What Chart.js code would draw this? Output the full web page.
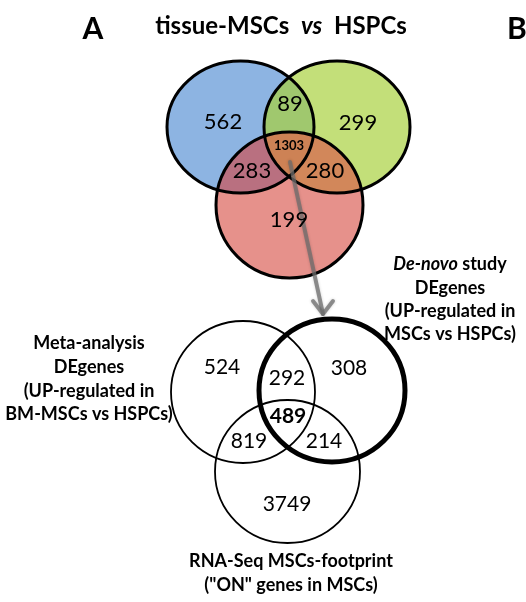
<!DOCTYPE html>
<html>
<head>
  <title>tissue-MSCs vs HSPCs</title>
  <script src="https://cdn.jsdelivr.net/npm/chart.js"></script>
  <style>
    body {
      margin: 0;
      background-color: #fff;
    }
    #venn {
      display: block;
    }
  </style>
</head>
<body>
  <canvas id="venn" width="526" height="602"></canvas>

  <script>
    // region order: A only, AB, B only, ABC, AC, BC, C only
    const regions = ['A', 'AB', 'B', 'ABC', 'AC', 'BC', 'C'];
    const topCounts = [562, 89, 299, 1303, 283, 280, 199];
    const bottomCounts = [524, 292, 308, 489, 819, 214, 3749];
    const bottomSets = [
      ['Meta-analysis', 'DEgenes', '(UP-regulated in', 'BM-MSCs vs HSPCs)'],
      ['De-novo study', 'DEgenes', '(UP-regulated in', 'MSCs vs HSPCs)'],
      ['RNA-Seq MSCs-footprint', '("ON" genes in MSCs)']
    ];

    // layout in axis units (x 0..526, y 0..602 top-down)
    const topCircles = [
      { cx: 240.5, cy: 127, rx: 73.5, ry: 66 },
      { cx: 337, cy: 127, rx: 73, ry: 66 },
      { cx: 289.5, cy: 205, rx: 73.5, ry: 73 }
    ];
    const bottomCircles = [
      { cx: 243, cy: 392, rx: 72, ry: 71 },
      { cx: 332, cy: 390.5, rx: 73, ry: 71.5 },
      { cx: 287.5, cy: 471.5, rx: 72.5, ry: 71.5 }
    ];
    const topLabelPos = [[223, 122], [290, 104], [358, 123], [289, 146], [252, 171], [325, 171], [289, 220]];
    const bottomLabelPos = [[222, 367], [287, 378], [349, 368], [288, 416], [249, 441], [324, 441], [287, 504]];

    const FONT = 'Lato, "Open Sans", sans-serif';

    function ellipsePath(ctx, chart, c) {
      const sx = chart.scales.x, sy = chart.scales.y;
      const px = sx.getPixelForValue(c.cx);
      const py = sy.getPixelForValue(c.cy);
      const rx = Math.abs(sx.getPixelForValue(c.cx + c.rx) - px);
      const ry = Math.abs(sy.getPixelForValue(c.cy + c.ry) - py);
      ctx.beginPath();
      ctx.ellipse(px, py, rx, ry, 0, 0, Math.PI * 2);
    }

    function fillClipped(ctx, chart, clips, target, color) {
      ctx.save();
      clips.forEach(c => { ellipsePath(ctx, chart, c); ctx.clip(); });
      ellipsePath(ctx, chart, target);
      ctx.fillStyle = color;
      ctx.fill();
      ctx.restore();
    }

    const vennPlugin = {
      id: 'venn',
      beforeDatasetsDraw(chart) {
        const ctx = chart.ctx;
        const [a, b, c] = topCircles;
        const sx = chart.scales.x, sy = chart.scales.y;

        // top venn fills
        fillClipped(ctx, chart, [], a, '#8db4e2');
        fillClipped(ctx, chart, [], b, '#c3df79');
        fillClipped(ctx, chart, [], c, '#e6918b');
        fillClipped(ctx, chart, [a], b, '#a0c86e');
        fillClipped(ctx, chart, [a], c, '#b97080');
        fillClipped(ctx, chart, [b], c, '#d2875a');
        fillClipped(ctx, chart, [a, b], c, '#cd8255');

        ctx.save();
        ctx.strokeStyle = '#000';
        ctx.lineWidth = 3;
        topCircles.forEach(k => { ellipsePath(ctx, chart, k); ctx.stroke(); });

        // bottom venn outlines
        bottomCircles.forEach((k, i) => {
          ellipsePath(ctx, chart, k);
          ctx.lineWidth = i === 1 ? 5 : 1.8;
          ctx.stroke();
        });
        ctx.restore();

        // arrow from the 1303 region to the de-novo set
        const x0 = sx.getPixelForValue(290), y0 = sy.getPixelForValue(162);
        const x1 = sx.getPixelForValue(323), y1 = sy.getPixelForValue(314);
        ctx.save();
        ctx.strokeStyle = 'rgba(110,110,110,0.75)';
        ctx.lineWidth = 4;
        ctx.lineCap = 'round';
        ctx.lineJoin = 'round';
        ctx.shadowColor = 'rgba(0,0,0,0.25)';
        ctx.shadowBlur = 3;
        ctx.beginPath();
        ctx.moveTo(x0, y0);
        ctx.lineTo(x1, y1);
        ctx.stroke();
        ctx.beginPath();
        ctx.moveTo(x1 - 10, y1 - 13);
        ctx.lineTo(x1, y1);
        ctx.lineTo(x1 + 10, y1 - 13);
        ctx.stroke();
        ctx.restore();
      },
      afterDatasetsDraw(chart) {
        const ctx = chart.ctx;
        const sx = chart.scales.x, sy = chart.scales.y;
        ctx.save();
        ctx.fillStyle = '#000';
        ctx.textAlign = 'center';
        ctx.textBaseline = 'middle';

        // region counts, drawn at the scatter points
        [0, 1].forEach(d => {
          const meta = chart.getDatasetMeta(d);
          const counts = d === 0 ? topCounts : bottomCounts;
          meta.data.forEach((pt, i) => {
            let f = '22px ' + FONT;
            if (d === 0 && i === 3) f = 'bold 13px ' + FONT;
            if (d === 1) f = (i === 3 ? 'bold ' : '') + '21px ' + FONT;
            ctx.font = f;
            ctx.fillText(String(counts[i]), pt.x, pt.y);
          });
        });

        // panel letters
        ctx.font = 'bold 30px ' + FONT;
        ctx.fillText('A', sx.getPixelForValue(93), sy.getPixelForValue(29));
        ctx.textAlign = 'left';
        ctx.fillText('B', sx.getPixelForValue(507), sy.getPixelForValue(29));

        // title with italic "vs"
        const parts = [
          ['bold 24px ' + FONT, 'tissue-MSCs  '],
          ['italic bold 24px ' + FONT, 'vs'],
          ['bold 24px ' + FONT, '  HSPCs']
        ];
        let total = 0;
        parts.forEach(p => { ctx.font = p[0]; total += ctx.measureText(p[1]).width; });
        let tx = sx.getPixelForValue(281) - total / 2;
        const ty = sy.getPixelForValue(26);
        parts.forEach(p => {
          ctx.font = p[0];
          ctx.fillText(p[1], tx, ty);
          tx += ctx.measureText(p[1]).width;
        });

        // set labels of the bottom venn
        ctx.textAlign = 'center';
        ctx.font = 'bold 18px ' + FONT;
        const metaY = [343, 367, 391, 414];
        bottomSets[0].forEach((s, i) => {
          ctx.fillText(s, sx.getPixelForValue(89), sy.getPixelForValue(metaY[i]));
        });
        const novoY = [264, 288, 311, 334];
        bottomSets[1].forEach((s, i) => {
          const y = sy.getPixelForValue(novoY[i]);
          if (i === 0) {
            ctx.font = 'italic bold 18px ' + FONT;
            const w1 = ctx.measureText('De-novo').width;
            ctx.font = 'bold 18px ' + FONT;
            const w2 = ctx.measureText(' study').width;
            let x = sx.getPixelForValue(450) - (w1 + w2) / 2;
            ctx.textAlign = 'left';
            ctx.font = 'italic bold 18px ' + FONT;
            ctx.fillText('De-novo', x, y);
            ctx.font = 'bold 18px ' + FONT;
            ctx.fillText(' study', x + w1, y);
            ctx.textAlign = 'center';
          } else {
            ctx.fillText(s, sx.getPixelForValue(450), y);
          }
        });
        const rnaY = [561, 585];
        bottomSets[2].forEach((s, i) => {
          ctx.fillText(s, sx.getPixelForValue(291), sy.getPixelForValue(rnaY[i]));
        });
        ctx.restore();
      }
    };

    const ctx = document.getElementById('venn').getContext('2d');
    const chart = new Chart(ctx, {
      type: 'scatter',
      data: {
        datasets: [
          {
            label: 'tissue-MSCs vs HSPCs',
            data: topCounts.map((v, i) => ({ x: topLabelPos[i][0], y: topLabelPos[i][1], region: regions[i] })),
            pointRadius: 0
          },
          {
            label: 'MSCs footprint',
            data: bottomCounts.map((v, i) => ({ x: bottomLabelPos[i][0], y: bottomLabelPos[i][1], region: regions[i] })),
            pointRadius: 0
          }
        ]
      },
      options: {
        responsive: false,
        animation: false,
        layout: { padding: 0 },
        plugins: {
          legend: { display: false },
          tooltip: { enabled: false }
        },
        scales: {
          x: { type: 'linear', min: 0, max: 526, display: false },
          y: { type: 'linear', min: 0, max: 602, reverse: true, display: false }
        }
      },
      plugins: [vennPlugin]
    });
  </script>
</body>
</html>
